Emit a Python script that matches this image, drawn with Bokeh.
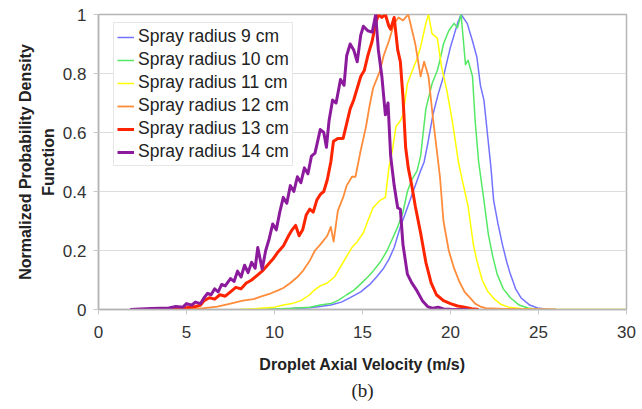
from bokeh.plotting import figure
from bokeh.models import Legend, LegendItem, Title, FixedTicker, Range1d
from bokeh.embed import file_html
from bokeh.resources import INLINE

# ---- data ----
series_names = ["Spray radius 9 cm", "Spray radius 10 cm", "Spray radius 11 cm",
                "Spray radius 12 cm", "Spray radius 13 cm", "Spray radius 14 cm"]

x9 = [9.5, 11, 12, 12.6, 13.2, 13.8, 14.3, 14.9, 15.45, 15.8, 16.2, 16.5, 16.8, 17.15, 17.4, 17.7,
      18.0, 18.3, 18.5, 18.7, 19.0, 19.3, 19.6, 20.0, 20.4, 20.6, 20.95, 21.25, 21.5, 21.7, 21.9,
      22.1, 22.3, 22.45, 22.7, 22.95, 23.2, 23.4, 23.7, 24.0, 24.5, 24.95, 25.5, 26]
y9 = [0, 0.003, 0.006, 0.01, 0.015, 0.025, 0.04, 0.06, 0.087, 0.11, 0.14, 0.17, 0.21, 0.28, 0.32,
      0.37, 0.42, 0.47, 0.50, 0.56, 0.66, 0.73, 0.79, 0.89, 0.97, 1.0, 0.97, 0.91, 0.855, 0.76, 0.71,
      0.595, 0.48, 0.37, 0.29, 0.22, 0.16, 0.12, 0.07, 0.04, 0.015, 0.005, 0.001, 0]

x10 = [9, 10, 11, 12, 12.6, 13.2, 13.6, 14.1, 14.5, 14.9, 15.3, 15.6, 16.0, 16.4, 16.7, 17.0, 17.3,
       17.55, 17.8, 18.1, 18.3, 18.45, 18.6, 18.95, 19.25, 19.4, 19.6, 19.9, 20.2, 20.4, 20.6, 20.75,
       20.85, 21.0, 21.25, 21.4, 21.6, 21.9, 22.15, 22.4, 22.65, 23.0, 23.4, 23.9, 24.4, 25]
y10 = [0, 0.002, 0.004, 0.008, 0.015, 0.02, 0.03, 0.05, 0.065, 0.087, 0.11, 0.13, 0.16, 0.2, 0.24,
       0.28, 0.33, 0.40, 0.44, 0.47, 0.52, 0.6, 0.68, 0.765, 0.81, 0.845, 0.90, 0.945, 0.97, 0.955,
       1.0, 0.90, 0.83, 0.845, 0.79, 0.64, 0.50, 0.37, 0.255, 0.18, 0.12, 0.07, 0.04, 0.015, 0.005, 0]

x11 = [8, 9, 10, 10.5, 11, 11.5, 12, 12.2, 12.6, 13.0, 13.4, 13.8, 14.1, 14.4, 14.7, 15.05, 15.3,
       15.6, 16.0, 16.3, 16.5, 16.7, 16.9, 17.15, 17.3, 17.55, 17.9, 18.1, 18.3, 18.6, 18.75, 18.95,
       19.25, 19.5, 19.8, 20.1, 20.45, 20.7, 21.0, 21.3, 21.5, 21.8, 22.1, 22.5, 22.85, 23.3, 24,
       25, 26, 30]
y11 = [0, 0.003, 0.008, 0.015, 0.02, 0.03, 0.05, 0.063, 0.08, 0.09, 0.11, 0.15, 0.18, 0.21, 0.23,
       0.26, 0.3, 0.345, 0.37, 0.38, 0.48, 0.54, 0.62, 0.64, 0.66, 0.765, 0.82, 0.85, 0.89, 0.97, 1.0,
       0.935, 0.92, 0.82, 0.74, 0.64, 0.50, 0.43, 0.35, 0.22, 0.165, 0.1, 0.063, 0.035, 0.018, 0.008,
       0.003, 0.001, 0, 0]

x12 = [4, 5, 6, 6.75, 7.5, 8.2, 8.8, 9.3, 9.8, 10.2, 10.5, 10.9, 11.3, 11.6, 12.0, 12.3, 12.6, 13.0,
       13.2, 13.36, 13.6, 13.9, 14.1, 14.4, 14.6, 14.9, 15.2, 15.4, 15.6, 15.8, 16.0, 16.2, 16.5,
       16.8, 17.05, 17.3, 17.6, 17.8, 18.0, 18.3, 18.5, 18.75, 19.0, 19.2, 19.4, 19.6, 19.9, 20.2,
       20.5, 20.8, 21.1, 21.4, 21.7, 22, 23, 24, 26]
y12 = [0, 0.002, 0.005, 0.01, 0.02, 0.03, 0.035, 0.045, 0.055, 0.065, 0.073, 0.09, 0.11, 0.13, 0.165,
       0.2, 0.22, 0.25, 0.28, 0.23, 0.335, 0.38, 0.42, 0.45, 0.45, 0.54, 0.62, 0.69, 0.75, 0.78, 0.81,
       0.86, 0.91, 0.97, 0.99, 0.98, 1.0, 0.95, 0.9, 0.79, 0.84, 0.79, 0.65, 0.55, 0.45, 0.3, 0.2,
       0.14, 0.095, 0.06, 0.04, 0.02, 0.01, 0.005, 0.002, 0.001, 0]

x13 = [3, 4, 5, 5.5, 5.8, 6.0, 6.3, 6.6, 6.9, 7.2, 7.5, 7.8, 8.1, 8.4, 8.7, 9.0, 9.3, 9.6, 9.9, 10.2,
       10.5, 10.8, 11.0, 11.2, 11.4, 11.6, 11.8, 12.0, 12.2, 12.4, 12.6, 12.8, 13.0, 13.2, 13.35,
       13.6, 13.9, 14.1, 14.3, 14.5, 14.7, 14.9, 15.1, 15.3, 15.55, 15.75, 15.9, 16.1, 16.3, 16.5,
       16.6, 16.8, 17.0, 17.15, 17.3, 17.45, 17.6, 17.8, 18.0, 18.3, 18.6, 18.9, 19.2, 19.6, 20.0,
       20.4, 20.8, 21.2, 21.6]
y13 = [0, 0.003, 0.006, 0.01, 0.015, 0.03, 0.04, 0.035, 0.05, 0.045, 0.06, 0.075, 0.07, 0.09, 0.1,
       0.115, 0.13, 0.15, 0.17, 0.195, 0.215, 0.25, 0.27, 0.285, 0.25, 0.27, 0.32, 0.34, 0.33, 0.37,
       0.39, 0.40, 0.44, 0.50, 0.57, 0.58, 0.58, 0.63, 0.68, 0.71, 0.75, 0.79, 0.81, 0.86, 0.91,
       0.97, 1.0, 0.99, 1.0, 0.96, 0.95, 0.99, 0.88, 0.84, 0.72, 0.55, 0.48, 0.42, 0.35, 0.26, 0.16,
       0.09, 0.05, 0.03, 0.02, 0.012, 0.008, 0.003, 0]

x14 = [1.8, 3, 4, 4.4, 4.8, 5.0, 5.3, 5.5, 5.8, 6.0, 6.2, 6.4, 6.6, 6.8, 7.0, 7.2, 7.5, 7.7, 7.9, 8.1,
       8.3, 8.5, 8.7, 8.9, 9.05, 9.3, 9.5, 9.7, 9.9, 10.1, 10.3, 10.5, 10.7, 10.9, 11.1, 11.3, 11.5,
       11.7, 11.9, 12.1, 12.3, 12.6, 12.8, 12.95, 13.1, 13.3, 13.5, 13.75, 13.95, 14.1, 14.3, 14.5,
       14.7, 14.9, 15.05, 15.3, 15.55, 15.75, 15.9, 16.1, 16.3, 16.45, 16.6, 16.8, 17.0, 17.15, 17.3,
       17.55, 17.8, 18.1, 18.4, 18.7, 19.0, 19.3, 19.6, 20, 21]
y14 = [0, 0.003, 0.005, 0.01, 0.008, 0.02, 0.015, 0.025, 0.02, 0.04, 0.055, 0.05, 0.07, 0.06, 0.085,
       0.08, 0.105, 0.095, 0.13, 0.11, 0.15, 0.125, 0.16, 0.14, 0.21, 0.137, 0.2, 0.24, 0.29, 0.27,
       0.33, 0.38, 0.36, 0.42, 0.40, 0.45, 0.43, 0.48, 0.46, 0.52, 0.53, 0.61, 0.60, 0.55, 0.64,
       0.71, 0.70, 0.78, 0.76, 0.86, 0.90, 0.88, 0.84, 0.93, 0.96, 0.945, 0.94, 1.0, 0.88, 0.79,
       0.66, 0.70, 0.52, 0.42, 0.345, 0.34, 0.22, 0.12, 0.09, 0.063, 0.03, 0.01, 0.004, 0.008,
       0.002, 0.001, 0]

xs_all = [x9, x10, x11, x12, x13, x14]
ys_all = [y9, y10, y11, y12, y13, y14]

x_ticks = [0, 5, 10, 15, 20, 25, 30]
y_ticks = [0, 0.2, 0.4, 0.6, 0.8, 1.0]
y_tick_labels = {0: "0", 0.2: "0.2", 0.4: "0.4", 0.6: "0.6", 0.8: "0.8", 1.0: "1"}

colors = ["#7373ff", "#55e865", "#ffff00", "#ff8c3a", "#ff2400", "#8c1a9c"]
widths = [1.5, 1.5, 1.5, 1.8, 3.0, 3.0]

FONT = "Liberation Sans"

p = figure(width=640, height=408, x_range=Range1d(0, 30), y_range=Range1d(0, 1),
           output_backend="svg", toolbar_location=None,
           min_border_left=98, min_border_right=14, min_border_top=14, min_border_bottom=99)

p.background_fill_color = "white"
p.border_fill_color = "white"
p.outline_line_color = "#b5b5b5"
p.outline_line_width = 1.5

p.xgrid.visible = False
p.ygrid.ticker = FixedTicker(ticks=y_ticks)
p.ygrid.grid_line_color = "#dcdcdc"
p.ygrid.grid_line_width = 1.2

p.xaxis.ticker = FixedTicker(ticks=x_ticks)
p.yaxis.ticker = FixedTicker(ticks=y_ticks)
p.yaxis.major_label_overrides = y_tick_labels

for ax in (p.xaxis, p.yaxis):
    ax.axis_line_color = "#b5b5b5"
    ax.axis_line_width = 1.5
    ax.major_tick_line_color = "#c8c8c8"
    ax.major_tick_out = 5
    ax.major_tick_in = 0
    ax.minor_tick_line_color = None
    ax.major_label_text_font = FONT
    ax.major_label_text_font_size = "17px"
    ax.major_label_text_color = "#333333"

p.yaxis.major_label_standoff = 7
p.xaxis.major_label_standoff = 11

p.xaxis.axis_label = "Droplet Axial Velocity (m/s)"
p.xaxis.axis_label_text_font = FONT
p.xaxis.axis_label_text_font_size = "16px"
p.xaxis.axis_label_text_font_style = "bold"
p.xaxis.axis_label_text_color = "#222222"
p.xaxis.axis_label_standoff = 15

renderers = []
for xs, ys, c, w in zip(xs_all, ys_all, colors, widths):
    r = p.line(xs, ys, line_color=c, line_width=w, line_join="round")
    renderers.append(r)

legend = Legend(items=[LegendItem(label=n, renderers=[r]) for n, r in zip(series_names, renderers)],
                location=(15, 143))
legend.label_text_font = FONT
legend.label_text_font_size = "17.5px"
legend.label_text_color = "#222222"
legend.glyph_width = 17
legend.glyph_height = 18
legend.label_height = 18
legend.label_standoff = 4
legend.spacing = 2
legend.padding = 3
legend.margin = 0
legend.border_line_color = "#d0d0d0"
legend.border_line_width = 1
legend.background_fill_alpha = 1.0
p.add_layout(legend, "center")

# two-line y axis title (inner line first, outer line second)
t_inner = Title(text="Function", align="center", text_font=FONT, text_font_size="16px",
                text_font_style="bold", text_color="#222222", standoff=6)
t_outer = Title(text="Normalized Probability Density", align="center", text_font=FONT,
                text_font_size="16px", text_font_style="bold", text_color="#222222", standoff=2)
p.add_layout(t_inner, "left")
p.add_layout(t_outer, "left")

sub = Title(text="(b)", align="center", text_font="Liberation Serif", text_font_size="19px",
            text_font_style="normal", text_color="#222222", standoff=4)
p.add_layout(sub, "below")

open("out.html", "w").write(file_html(p, INLINE))
